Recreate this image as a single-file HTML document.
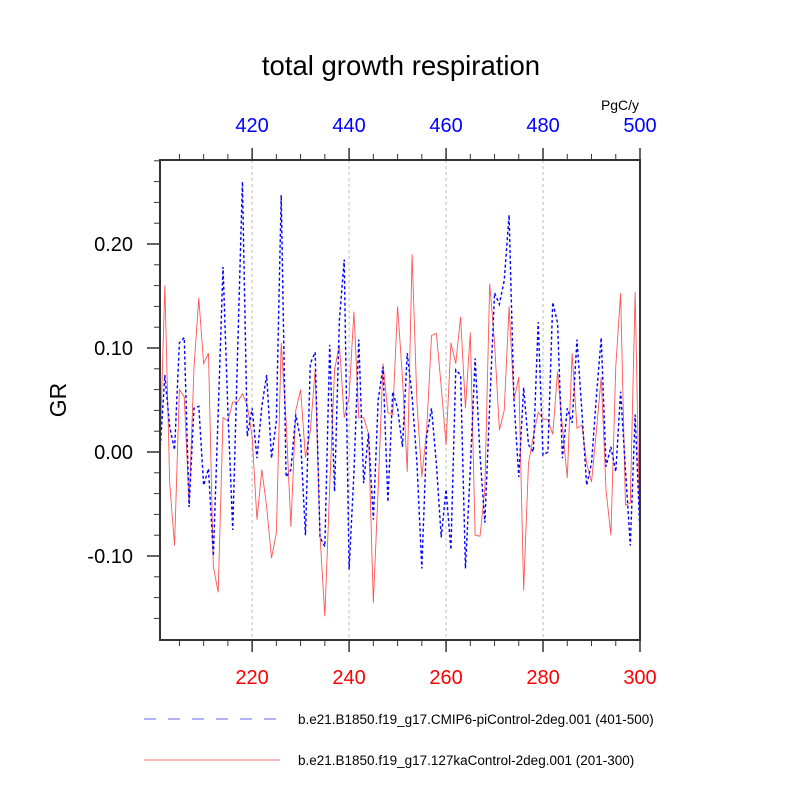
<!DOCTYPE html>
<html><head><meta charset="utf-8">
<style>
html,body{margin:0;padding:0;background:#fff;}
svg{display:block;font-family:"Liberation Sans",Arial,sans-serif;}
</style></head>
<body>
<svg id="chart" width="800" height="800" viewBox="0 0 800 800">
  <text x="401" y="75" font-size="27.5" text-anchor="middle">total growth respiration</text>
  <text x="620" y="110" font-size="14" text-anchor="middle">PgC/y</text>
  <text x="66" y="400" font-size="23" text-anchor="middle" transform="rotate(-90 66 400)">GR</text>
  <g id="grid"></g>
  <g id="series"></g>
  <g id="axes"></g>
  <g>
    <line x1="144" y1="719" x2="276" y2="719" stroke="#6666ff" stroke-width="1" stroke-dasharray="12,12"/>
    <text x="298" y="724" font-size="13.5">b.e21.B1850.f19_g17.CMIP6-piControl-2deg.001 (401-500)</text>
    <line x1="144" y1="760" x2="280" y2="760" stroke="#ff7777" stroke-width="1"/>
    <text x="298" y="765" font-size="13.5">b.e21.B1850.f19_g17.127kaControl-2deg.001 (201-300)</text>
  </g>
</svg>
<script>
const redValues = [0.00,0.16,-0.03,-0.09,0.06,0.053,-0.05,0.08,0.148,0.085,0.095,-0.11,-0.135,0.033,0.03,0.048,0.048,0.056,0.045,0.015,-0.065,-0.017,-0.053,-0.102,-0.078,0.105,0.03,-0.072,0.04,0.06,-0.005,0.02,0.079,-0.08,-0.158,-0.034,0.079,0.103,0.033,0.053,0.135,0.033,0.033,0.018,-0.145,-0.035,0.085,0.038,0.036,0.14,0.072,-0.019,0.19,0.047,-0.024,0.021,0.112,0.114,0.063,0.007,0.105,0.085,0.13,0.042,0.115,-0.08,-0.081,-0.036,0.162,0.105,0.021,0.04,0.14,0.05,0.072,-0.133,-0.011,0.015,0.038,0.032,0.031,0.017,0.077,0.024,-0.025,0.095,0.023,0.026,-0.011,-0.029,0.02,0.072,-0.037,-0.08,0.082,0.153,-0.051,-0.049,0.154,-0.09];
const blueValues = [0.00,0.074,0.024,0.002,0.105,0.11,-0.053,0.042,0.044,-0.032,-0.016,-0.1,0.037,0.178,0.04,-0.075,0.095,0.26,0.015,0.042,-0.006,0.044,0.074,-0.006,0.03,0.247,-0.024,-0.017,0.036,0.012,-0.08,0.085,0.096,-0.082,-0.091,0.103,-0.038,0.127,0.185,-0.113,-0.02,0.108,-0.03,0.018,-0.065,0.05,0.082,-0.048,0.058,0.042,0.005,0.095,0.053,-0.011,-0.112,0.015,0.042,-0.011,-0.082,-0.036,-0.094,0.079,0.074,-0.112,-0.016,0.09,-0.003,-0.068,0.045,0.153,0.142,0.165,0.228,0.05,-0.024,0.062,0.007,0.0,0.125,-0.003,0.0,0.144,0.124,-0.006,0.042,0.028,0.108,0.04,-0.032,-0.011,0.053,0.11,-0.014,0.005,-0.019,0.058,-0.017,-0.09,0.036,-0.08];
const bottomTicks = [220,240,260,280,300];
const topTicks = [420,440,460,480,500];
const yTicks = [-0.10,0.00,0.10,0.20];
const yTickLabels = ["-0.10","0.00","0.10","0.20"];

const NS="http://www.w3.org/2000/svg";
const L=160,R=640,T=160,B=640;
function xs(i){return L+(i)*(R-L)/99;}
function xYear(y){return L+(y-201)*(R-L)/99;}
function ys(v){return 452 - v*1040;}
function mk(tag,attrs,parent){const e=document.createElementNS(NS,tag);for(const k in attrs)e.setAttribute(k,attrs[k]);parent.appendChild(e);return e;}

const grid=document.getElementById('grid'),series=document.getElementById('series'),axes=document.getElementById('axes');

for(const t of bottomTicks){ if(t>=300) continue;
  const g=mk('line',{x1:xYear(t),x2:xYear(t),y1:T,y2:B,stroke:'#bbb','stroke-width':1,'stroke-dasharray':'3,3'},grid);
  
  
}

function path(vals,attrs,name){
  const d=vals.map((v,i)=>(i?'L':'M')+xs(i).toFixed(2)+','+ys(v).toFixed(2)).join('');
  const p=mk('path',Object.assign({d:d,fill:'none'},attrs),series);
  
  
}
path(redValues,{stroke:'#ff5555','stroke-width':0.9},'series-127ka-red');
path(blueValues,{stroke:'#0000ff','stroke-width':1.4,'stroke-dasharray':'3,2.5'},'series-picontrol-blue');

const frame=mk('rect',{x:L,y:T,width:R-L,height:B-T,fill:'none',stroke:'#333','stroke-width':2},axes);



for(let yr=205;yr<=300;yr+=5){
  const x=xYear(yr),major=yr%20===0,len=major?12:6;
  const tb=mk('line',{x1:x,x2:x,y1:B,y2:B+len,stroke:'#333','stroke-width':major?1.5:1},axes);
  
  
  const tt=mk('line',{x1:x,x2:x,y1:T,y2:T-len,stroke:'#333','stroke-width':major?1.5:1},axes);
  
  
}
bottomTicks.forEach(t=>{
  const e=mk('text',{x:xYear(t),y:684,'font-size':20,fill:'#ff0000','text-anchor':'middle'},axes);
  e.textContent=t;
  
  
});
topTicks.forEach(t=>{
  const e=mk('text',{x:xYear(t-200),y:132,'font-size':20,fill:'#0000ff','text-anchor':'middle'},axes);
  e.textContent=t;
  
  
});
for(let k=-8;k<=14;k++){
  const v=k*0.02,y=ys(v); if(y<T-0.5||y>B+0.5) continue;
  const major=k%5===0;
  const t=mk('line',{x1:major?147:154,x2:L,y1:y,y2:y,stroke:'#333','stroke-width':major?1.5:1},axes);
  
  
}
yTicks.forEach((v,i)=>{
  const e=mk('text',{x:133,y:ys(v)+7,'font-size':20,'text-anchor':'end'},axes);
  e.textContent=yTickLabels[i];
  
  
});
</script>
</body></html>
